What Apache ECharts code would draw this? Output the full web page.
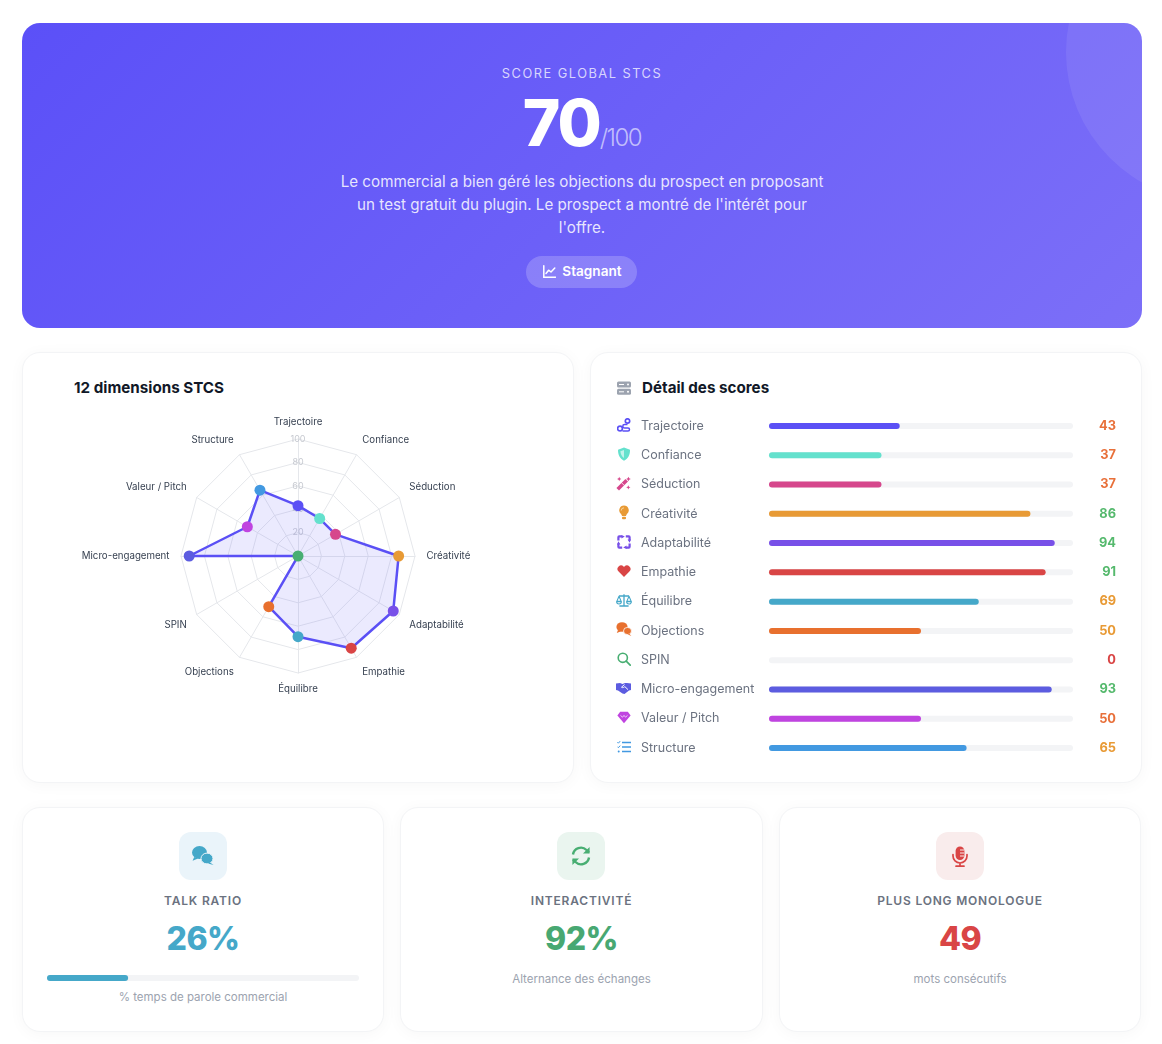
<!DOCTYPE html>
<html lang="fr">
<head>
<meta charset="utf-8">
<title>Score global STCS</title>
<script src="https://cdn.jsdelivr.net/npm/echarts@6/dist/echarts.min.js"></script>
<style>
html,body{margin:0;padding:0;width:1162px;height:1044px;overflow:hidden;background:#fff;font-family:Inter,"Noto Sans",sans-serif;-webkit-font-smoothing:antialiased}
.abs{position:absolute}
.card{position:absolute;box-sizing:border-box;background:#fff;border:1px solid #f3f4f6;border-radius:18px;box-shadow:0 2px 16px rgba(0,0,0,.035)}
#hero{left:22px;top:23px;width:1120px;height:305px;border-radius:18px;overflow:hidden;background:linear-gradient(135deg,#5b50f8 0%,#7c6ff8 100%)}
#blob{left:1044px;top:-121px;width:300px;height:300px;border-radius:50%;background:rgba(255,255,255,.08)}
.c{text-align:center;white-space:nowrap}
.t{font-size:15.2px;font-weight:700;color:#111827;line-height:20px;white-space:nowrap}
.ic{position:absolute;display:block}
.sbox{position:absolute;top:832px;width:48px;height:48px;border-radius:12px;display:flex;align-items:center;justify-content:center}
.lab{position:absolute;top:893px;font-size:12px;font-weight:600;letter-spacing:.8px;color:#6b7280;line-height:16px;text-align:center;white-space:nowrap}
.val{position:absolute;top:919px;font-size:32px;font-weight:800;letter-spacing:-.5px;line-height:40px;text-align:center;white-space:nowrap}
.sub{position:absolute;font-size:11.5px;color:#9ca3af;line-height:14px;text-align:center;white-space:nowrap}
#main{position:absolute;left:0;top:0;width:1162px;height:1044px;pointer-events:none}
</style>
</head>
<body>
<div id="hero" class="abs">
  <div id="blob" class="abs"></div>
  <div class="abs c" style="left:0;width:1120px;top:43px;font-size:12.8px;letter-spacing:1.5px;line-height:16px;color:rgba(255,255,255,.75)">SCORE GLOBAL STCS</div>
  <div class="abs c" style="left:0;width:1120px;top:60px;line-height:80px;color:#fff">
    <span style="font-size:64px;font-weight:800;letter-spacing:-2px">70</span><span style="font-size:24px;font-weight:300;letter-spacing:-1.5px;color:rgba(255,255,255,.6)">/100</span>
  </div>
  <div class="abs c" style="left:0;width:1120px;top:147.4px;font-size:15.2px;line-height:23px;color:rgba(255,255,255,.85)">Le commercial a bien géré les objections du prospect en proposant<br>un test gratuit du plugin. Le prospect a montré de l'intérêt pour<br>l'offre.</div>
  <div class="abs" style="left:504px;top:233px;width:111px;height:32px;padding-left:2px;box-sizing:border-box;border-radius:16px;background:rgba(255,255,255,.2);color:#fff;font-size:13.6px;font-weight:600;line-height:31px;display:flex;align-items:center;justify-content:center;gap:6px">
    <svg width="13" height="13" viewBox="0 0 13 13" style="position:relative;top:-1px"><path d="M.8 .8V12.2H12.6" fill="none" stroke="#fff" stroke-width="1.5" stroke-linecap="round"/><path d="M3 8.5 5.6 5.2 8 7 11.8 3" fill="none" stroke="#fff" stroke-width="1.5" stroke-linecap="round" stroke-linejoin="round"/></svg>
    <span style="position:relative;top:-1px">Stagnant</span>
  </div>
</div>

<div class="card" style="left:22px;top:352px;width:552px;height:431px"></div>
<div class="card" style="left:590px;top:352px;width:552px;height:431px"></div>
<div class="abs t" style="left:74px;top:378px">12 dimensions STCS</div>
<div class="abs t" style="left:642px;top:378px">Détail des scores</div>
<svg class="ic" style="left:617px;top:381px" width="14" height="14" viewBox="0 0 14 14"><rect width="14" height="6" rx="1.5" y="0.5" fill="#9ca3af"/><rect width="14" height="6" rx="1.5" y="7.8" fill="#9ca3af"/><circle cx="11" cy="3.5" r="1" fill="#fff"/><circle cx="11" cy="10.8" r="1" fill="#fff"/><rect x="2" y="3" width="5" height="1" fill="#fff"/><rect x="2" y="10.3" width="5" height="1" fill="#fff"/></svg>

<!-- row icons -->
<svg class="ic" style="left:617px;top:418px" width="14" height="14" viewBox="0 0 14 14"><circle cx="10.5" cy="3" r="2.2" fill="none" stroke="#5b50f5" stroke-width="1.7"/><circle cx="3" cy="10.5" r="2.4" fill="none" stroke="#5b50f5" stroke-width="1.7"/><path d="M10.5 6.6H7.5a1.6 1.6 0 0 0 0 3.4H11a1.5 1.5 0 0 1 0 3H5.5" fill="none" stroke="#5b50f5" stroke-width="1.5"/></svg>
<svg class="ic" style="left:617px;top:447px" width="14" height="14" viewBox="0 0 14 14"><path d="M7 .5 13 2.8C13 7.5 11.5 11.5 7 13.7 2.5 11.5 1 7.5 1 2.8Z" fill="#64e1cd"/><path d="M7 3 3.4 4.3C3.6 7 4.6 9.5 7 11Z" fill="#fff" opacity=".6"/></svg>
<svg class="ic" style="left:616px;top:476px" width="15" height="15" viewBox="0 0 14 14"><path d="M1.6 12.4 10 4" stroke="#d6478c" stroke-width="3.4"/><path d="M4.9 6 7.9 9" stroke="#fff" stroke-width=".7"/><path d="M11.6 .6l.7 1.5 1.5.7-1.5.7-.7 1.5-.7-1.5-1.5-.7 1.5-.7Z M3 .8l.6 1.4 1.4.6-1.4.6L3 4.8l-.6-1.4L1 2.8l1.4-.6Z M11.5 8.6l.6 1.4 1.4.6-1.4.6-.6 1.4-.6-1.4-1.4-.6 1.4-.6Z" fill="#d6478c"/></svg>
<svg class="ic" style="left:617px;top:505px" width="14" height="15" viewBox="0 0 14 15"><path d="M7 .6a4.8 4.8 0 0 0-3 8.5c.6.6.9 1.2 1 1.9h4c.1-.7.4-1.3 1-1.9A4.8 4.8 0 0 0 7 .6Z" fill="#e89a35"/><path d="M4.2 5.6A2.8 2.8 0 0 1 7 2.8" fill="none" stroke="#f8d9a8" stroke-width=".9"/><rect x="5" y="11.8" width="4" height="2.4" rx="1" fill="#e89a35"/></svg>
<svg class="ic" style="left:617px;top:535px" width="14" height="14" viewBox="0 0 14 14"><path d="M1.4 5.5V2.2A.8.8 0 0 1 2.2 1.4H5.2M8.8 1.4H11.8A.8.8 0 0 1 12.6 2.2V5.5M12.6 8.5V11.8A.8.8 0 0 1 11.8 12.6H8.8M5.2 12.6H2.2A.8.8 0 0 1 1.4 11.8V8.5" fill="none" stroke="#7850e8" stroke-width="2.2"/><path d="M4.5 0 7.8 1.4 4.5 3.4Z M14 4.5 12.6 7.8 10.6 4.5Z M9.5 14 6.2 12.6 9.5 10.6Z M0 9.5 1.4 6.2 3.4 9.5Z" fill="#7850e8"/></svg>
<svg class="ic" style="left:617px;top:564px" width="14" height="14" viewBox="0 0 14 14"><path d="M7 13 1.6 7.6a3.5 3.5 0 0 1 0-5 3.5 3.5 0 0 1 5 0l.4.4.4-.4a3.5 3.5 0 0 1 5 0 3.5 3.5 0 0 1 0 5Z" fill="#d94545"/></svg>
<svg class="ic" style="left:616px;top:593px" width="16" height="15" viewBox="0 0 16 15"><path d="M8 1.2V12.4M3.4 13H12.6M3 3H13" stroke="#45a8c9" stroke-width="1.3" fill="none"/><path d="M3 3.2 .8 8.4H5.2ZM.6 8.6a2.4 2.4 0 0 0 4.8 0ZM13 3.2 10.8 8.4H15.2ZM10.6 8.6a2.4 2.4 0 0 0 4.8 0Z" fill="none" stroke="#45a8c9" stroke-width="1.1" stroke-linejoin="round"/></svg>
<svg class="ic" style="left:616px;top:622px" width="16" height="15" viewBox="0 0 16 15"><ellipse cx="6" cy="5" rx="5.6" ry="4.8" fill="#e8702e"/><path d="M2 8 .8 11 5 9.2Z" fill="#e8702e"/><ellipse cx="11.5" cy="9" rx="4" ry="3.6" fill="#e8702e" stroke="#fff" stroke-width=".8"/><path d="M13 11.5 15.4 14 12 12.4Z" fill="#e8702e"/></svg>
<svg class="ic" style="left:617px;top:652px" width="14" height="14" viewBox="0 0 14 14"><circle cx="5.8" cy="5.8" r="4.6" fill="none" stroke="#48ae72" stroke-width="1.6"/><path d="M9.2 9.2 13.2 13.2" stroke="#48ae72" stroke-width="1.7" stroke-linecap="round"/></svg>
<svg class="ic" style="left:616px;top:681px" width="15" height="14" viewBox="0 0 15 14"><path d="M0 2.5 4 2 6.5 3 9 2 11 2 15 2.5V9L13 9.6 8.5 13 6.5 12.6 2 9.6 0 9Z" fill="#5c5ce0"/><path d="M8.5 3.5 5.5 6.2C6.8 7.2 8 6.2 8.8 5.6L12 8.6" fill="none" stroke="#fff" stroke-width="1"/></svg>
<svg class="ic" style="left:617px;top:711px" width="14" height="13" viewBox="0 0 14 13"><path d="M3.2 .8H10.8L13.6 4.4 7 12.2 .4 4.4Z" fill="#c044e0"/><path d="M3.5 4.4 5.5 6.2 7 4.4 8.5 6.2 10.5 4.4" fill="none" stroke="#fff" stroke-width=".7"/></svg>
<svg class="ic" style="left:617px;top:740px" width="14" height="14" viewBox="0 0 14 14"><path d="M5 2.5H14M5 7H14M5 11.5H14" stroke="#4299e1" stroke-width="1.3"/><path d="M.4 2.2 1.4 3.2 3.2 1.1M.4 6.7 1.4 7.7 3.2 5.6" fill="none" stroke="#4299e1" stroke-width="1"/><circle cx="1.7" cy="11.5" r="1" fill="#4299e1"/></svg>

<!-- stats -->
<div class="card" style="left:22px;top:807px;width:362px;height:225px"></div>
<div class="card" style="left:400px;top:807px;width:363px;height:225px"></div>
<div class="card" style="left:779px;top:807px;width:362px;height:225px"></div>

<div class="sbox" style="left:179px;background:#eaf4fa"><svg width="24" height="22" viewBox="0 0 24 22"><ellipse cx="8.5" cy="7.5" rx="7.5" ry="6.5" fill="#45a8c9"/><path d="M3.2 12 1.6 15.8 7 13.6Z" fill="#45a8c9"/><ellipse cx="16" cy="13.5" rx="6" ry="5.4" fill="#45a8c9" stroke="#eaf4fa" stroke-width="1"/><path d="M19 17.5 22.6 20 17 18.6Z" fill="#45a8c9"/></svg></div>
<div class="lab" style="left:22px;width:362px">TALK RATIO</div>
<div class="val" style="left:22px;width:362px;color:#45a8c9">26%</div>
<div class="sub" style="left:22px;width:362px;top:990px">% temps de parole commercial</div>

<div class="sbox" style="left:557px;background:#eaf5ef"><svg width="22" height="22" viewBox="0 0 22 22"><path d="M3 9.5A8 8 0 0 1 16.5 5L19 7.5M19 12.5A8 8 0 0 1 5.5 17L3 14.5" fill="none" stroke="#48ae72" stroke-width="2.4"/><path d="M19.6 2V8.6H13ZM2.4 20V13.4H9Z" fill="#48ae72"/></svg></div>
<div class="lab" style="left:400px;width:363px">INTERACTIVITÉ</div>
<div class="val" style="left:400px;width:363px;color:#48a872">92%</div>
<div class="sub" style="left:400px;width:363px;top:972px">Alternance des échanges</div>

<div class="sbox" style="left:936px;background:#f9ecec"><svg width="16" height="21" viewBox="0 0 16 21"><rect x="3.6" y=".5" width="8.8" height="13.5" rx="4.4" fill="#d94545"/><path d="M1 8.5V10a7 7 0 0 0 14 0V8.5M8 17V20M4 20.2H12" fill="none" stroke="#d94545" stroke-width="1.7" stroke-linecap="round"/><path d="M8 4H12M8 7H12M8 10H12" stroke="#f9ecec" stroke-width="1.2"/></svg></div>
<div class="lab" style="left:779px;width:362px">PLUS LONG MONOLOGUE</div>
<div class="val" style="left:779px;width:362px;color:#d94545">49</div>
<div class="sub" style="left:779px;width:362px;top:972px">mots consécutifs</div>

<div id="main"></div>
<script>
const dimensions = ['Trajectoire','Confiance','Séduction','Créativité','Adaptabilité','Empathie','Équilibre','Objections','SPIN','Micro-engagement','Valeur / Pitch','Structure'];
const scores = [43,37,37,86,94,91,69,50,0,93,50,65];
const dimensionColors = ['#5b50f5','#64e1cd','#d6478c','#e89a35','#7850e8','#d94545','#45a8c9','#e8702e','#48ae72','#5c5ce0','#c044e0','#4299e1'];
const scoreTextColors = ['#e8703a','#e8703a','#e8703a','#55b96d','#55b96d','#55b96d','#e89a35','#e89a35','#d94545','#55b96d','#e8703a','#e89a35'];
const talkRatio = [26];
const talkLabel = ['Talk ratio'];
const scaleMax = 100;
const lineColor = '#5b50f5';
const FONT = 'Inter';

// ECharts lays radar indicators out counter-clockwise: reverse all but the first
// so the dimensions read clockwise from the top.
const radarOrder = dimensions.map((_, i) => (i === 0 ? 0 : dimensions.length - i));
const nameAlign = d => (d === 3 || d === 9) ? 'middle' : (d > 3 && d < 9) ? 'top' : 'bottom';

const chart = echarts.init(document.getElementById('main'), null, {renderer:'canvas'});
chart.setOption({
  animation:false,
  backgroundColor:'transparent',
  radar:{
    center:[298,556], radius:117, startAngle:90, splitNumber:5, shape:'polygon', nameGap:11.5,
    axisName:{color:'#374151',fontSize:9.6,fontFamily:FONT},
    axisLine:{lineStyle:{color:'#e5e7eb',width:1}},
    splitLine:{lineStyle:{color:'#e5e7eb',width:1}},
    splitArea:{show:false},
    axisTick:{show:false},
    indicator:radarOrder.map((d,i)=>({
      name:dimensions[d],min:0,max:scaleMax,
      nameTextStyle:{verticalAlign:nameAlign(d),color:'#374151',fontSize:9.7,fontFamily:FONT},
      axisLabel:{show:i===0,color:'#c6c9d0',fontSize:9,fontFamily:FONT,margin:0,align:'center',verticalAlign:'middle',showMinLabel:false}
    }))
  },
  polar:{center:[298,556],radius:117},
  angleAxis:{type:'category',data:dimensions,show:false,startAngle:90,boundaryGap:false},
  radiusAxis:{type:'value',min:0,max:scaleMax,show:false},
  grid:[
    {left:769,width:304,top:411.4,height:351.2,containLabel:false},
    {left:47,width:312,top:963,height:30}
  ],
  xAxis:[
    {gridIndex:0,type:'value',min:0,max:scaleMax,show:false},
    {gridIndex:1,type:'value',min:0,max:scaleMax,show:false}
  ],
  yAxis:[
    {gridIndex:0,type:'category',data:dimensions,inverse:true,position:'left',
      axisLine:{show:false},axisTick:{show:false},
      axisLabel:{margin:128,align:'left',fontSize:12.5,fontFamily:FONT,color:'#6b7280'}},
    {gridIndex:0,type:'category',data:scores.map(String),inverse:true,position:'right',
      axisLine:{show:false},axisTick:{show:false},
      axisLabel:{margin:43,align:'right',fontSize:12.8,fontWeight:700,fontFamily:FONT,
        color:(v,i)=>scoreTextColors[i]}},
    {gridIndex:1,type:'category',data:talkLabel,show:false}
  ],
  series:[
    {type:'radar',radarIndex:0,symbol:'none',z:2,
      lineStyle:{color:lineColor,width:2.5},
      areaStyle:{color:'rgba(91,80,245,0.12)',opacity:1},
      data:[{value:radarOrder.map(d=>scores[d]),name:'Score'}]},
    {type:'scatter',coordinateSystem:'polar',symbolSize:11,z:3,
      itemStyle:{opacity:1},
      data:scores.map((v,i)=>({value:[v,i],itemStyle:{color:dimensionColors[i],opacity:1}}))},
    {type:'bar',xAxisIndex:0,yAxisIndex:0,barWidth:6,barGap:'-100%',silent:true,z:2,
      itemStyle:{color:'#f3f4f6',borderRadius:3},
      data:dimensions.map(()=>scaleMax)},
    {type:'bar',xAxisIndex:0,yAxisIndex:0,barWidth:6,barGap:'-100%',z:3,
      data:scores.map((v,i)=>({value:v,itemStyle:{color:dimensionColors[i],borderRadius:3}}))},
    {type:'bar',xAxisIndex:1,yAxisIndex:2,barWidth:6,barGap:'-100%',silent:true,z:2,
      itemStyle:{color:'#f3f4f6',borderRadius:3},data:talkRatio.map(()=>scaleMax)},
    {type:'bar',xAxisIndex:1,yAxisIndex:2,barWidth:6,barGap:'-100%',z:3,
      itemStyle:{color:'#45a8c9',borderRadius:3},data:talkRatio}
  ]
});
</script>
</body>
</html>
